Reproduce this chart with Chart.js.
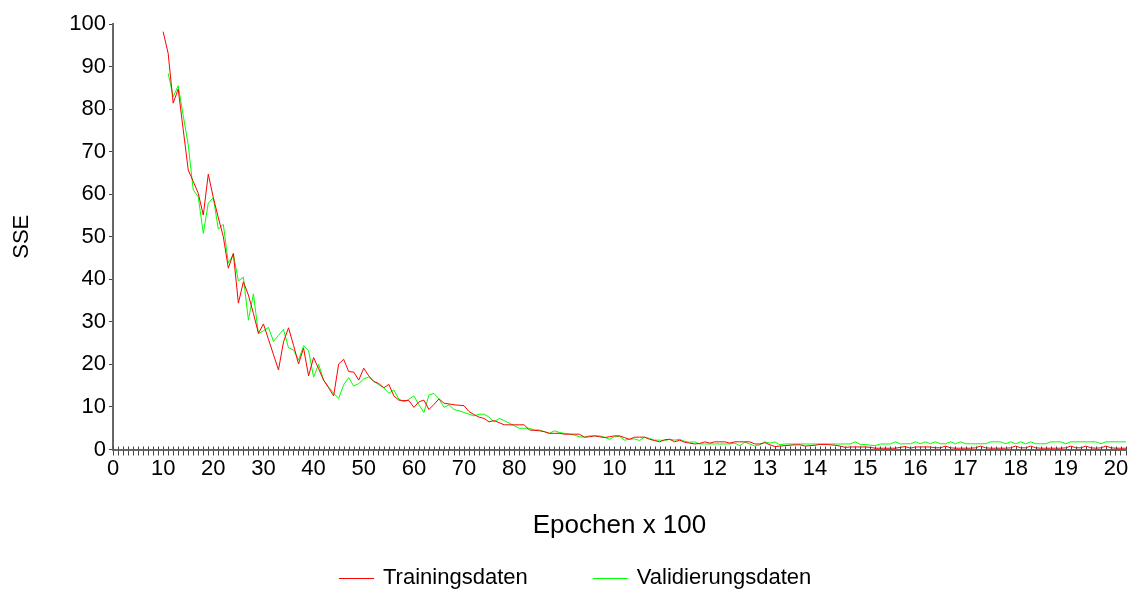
<!DOCTYPE html>
<html>
<head>
<meta charset="utf-8">
<script src="https://cdn.jsdelivr.net/npm/chart.js@4.4.0/dist/chart.umd.min.js"></script>
<style>
  html, body { margin: 0; padding: 0; background: #fff; }
</style>
</head>
<body>
<canvas id="sseChart" width="1147" height="596"></canvas>
<script>
// Epochen (x 10), eine Kategorie pro Messpunkt
const epochs = Array.from({ length: 203 }, (_, i) => i);
// Beschriftung jeder 10. Kategorie, so wie im Original (100..200 abgeschnitten)
const tickLabels = ['0', '10', '20', '30', '40', '50', '60', '70', '80', '90',
  '10', '11', '12', '13', '14', '15', '16', '17', '18', '19', '20'];

const trainStart = 10;
const trainingSSE = [
  98.2, 93.1, 81.4, 84.7, 75.2, 65.7, 63, 60.2, 55.1, 64.7,
  59.2, 54.5, 50, 42.6, 46.1, 34.4, 39.4, 36.3, 32, 27.3,
  29.5, 25.9, 22.3, 18.7, 25.3, 28.6, 24.5, 20.1, 23.8, 17.3,
  21.6, 19, 16.3, 14.5, 12.6, 20.1, 21.2, 18.3, 18.2, 16.3,
  19.1, 17.3, 16, 15.5, 14.5, 15.3, 12.6, 11.6, 11.5, 11.5,
  9.9, 11.2, 11.6, 9.4, 10.6, 11.9, 10.9, 10.7, 10.5, 10.4,
  10.3, 8.9, 8.2, 7.6, 7.3, 6.5, 6.8, 6.3, 5.8, 5.8,
  5.8, 5.8, 5.8, 4.6, 4.5, 4.4, 4.2, 3.8, 3.8, 3.8,
  3.6, 3.6, 3.6, 3.6, 2.9, 3.0, 3.2, 3.0, 2.8, 3.0,
  3.2, 3.2, 2.8, 2.4, 2.9, 2.9, 2.9, 2.4, 2.1, 1.8,
  2.3, 2.4, 1.8, 2.2, 1.7, 1.5, 1.3, 1.4, 1.8, 1.5,
  1.8, 1.8, 1.8, 1.5, 1.8, 1.8, 1.8, 1.8, 1.3, 1.3,
  1.6, 1.1, 0.7, 0.8, 0.9, 1.0, 1.1, 1.1, 0.8, 0.9,
  1.0, 1.2, 1.2, 1.1, 1.0, 0.8, 0.5, 0.6, 0.6, 0.6,
  0.6, 0.5, 0.3, 0.3, 0.3, 0.3, 0.3, 0.5, 0.7, 0.3,
  0.6, 0.6, 0.6, 0.6, 0.4, 0.4, 0.8, 0.4, 0.3, 0.3,
  0.3, 0.3, 0.4, 0.8, 0.4, 0.3, 0.3, 0.3, 0.3, 0.4,
  0.8, 0.4, 0.4, 0.8, 0.4, 0.3, 0.3, 0.3, 0.3, 0.3,
  0.4, 0.8, 0.4, 0.4, 0.8, 0.4, 0.3, 0.4, 0.8, 0.4,
  0.3, 0.3, 0.3
];

const validStart = 11;
const validationSSE = [
  88.4, 82.9, 85.5, 78.5, 71.6, 61, 59.4, 50.8, 57.9,
  59.2, 51.8, 52.9, 43.8, 45.9, 39.6, 40.5, 30.4, 36.6, 27.2,
  27.9, 28.7, 25.4, 26.8, 28.2, 23.9, 23.4, 21, 24.4, 23.2,
  17, 20, 16.3, 14.7, 13.2, 12, 15.2, 16.9, 14.9, 15.5,
  16.6, 17, 16, 15.2, 14.5, 13.2, 14, 11.8, 11.2, 11.8,
  12.6, 10.5, 8.7, 12.8, 13.2, 11.9, 9.9, 10.5, 9.4, 9.1,
  8.7, 8.3, 7.9, 8.3, 8.3, 7.6, 6.5, 7.3, 6.8, 6.2,
  5.6, 5, 5, 5, 4.6, 4.6, 4.2, 3.8, 4.4, 4,
  3.8, 3.6, 3.4, 3.0, 2.9, 3.2, 3.2, 3.2, 2.9, 2.4,
  3.0, 3.1, 2.2, 2.4, 2.5, 2.1, 2.9, 2.6, 2.2, 2.2,
  2.1, 2.4, 2.2, 2.4, 1.9, 1.7, 1.8, 1.3, 1.3, 1.3,
  1.3, 1.3, 1.3, 1.3, 1.5, 0.9, 1.7, 1.3, 0.8, 1.1,
  1.8, 1.5, 1.8, 1.1, 1.3, 1.3, 1.3, 1.3, 1.3, 1.3,
  1.3, 1.3, 1.3, 1.3, 1.3, 1.3, 1.3, 1.3, 1.8, 1.2,
  1.2, 1.0, 0.9, 1.3, 1.3, 1.3, 1.8, 1.3, 1.35, 1.35,
  1.8, 1.35, 1.8, 1.35, 1.8, 1.35, 1.35, 1.8, 1.35, 1.8,
  1.35, 1.35, 1.35, 1.35, 1.35, 1.8, 1.8, 1.8, 1.35, 1.8,
  1.35, 1.8, 1.35, 1.8, 1.35, 1.35, 1.35, 1.8, 1.8, 1.8,
  1.35, 1.8, 1.8, 1.8, 1.8, 1.8, 1.8, 1.35, 1.8, 1.8,
  1.8, 1.8, 1.8
];

const fontFamily = '"Liberation Sans", Arial, sans-serif';
Chart.defaults.font.family = fontFamily;
Chart.defaults.font.size = 22;
Chart.defaults.color = '#000';

function withOffset(values, start) {
  return Array(start).fill(null).concat(values);
}

// Achsenstriche gehen im Original etwas über die x-Achse hinaus
const crossTicks = {
  id: 'crossTicks',
  afterDraw(chart) {
    const s = chart.scales.x;
    const ctx = chart.ctx;
    ctx.save();
    ctx.strokeStyle = '#444';
    ctx.lineWidth = 1;
    ctx.beginPath();
    s.ticks.forEach((t, i) => {
      const px = Math.round(s.getPixelForTick(i)) + 0.5;
      ctx.moveTo(px, s.top - 3);
      ctx.lineTo(px, s.top);
    });
    ctx.stroke();
    ctx.restore();
  }
};

// Legende mit Linien statt Kästchen
const lineLegend = {
  id: 'lineLegend',
  afterDraw(chart) {
    const ctx = chart.ctx;
    ctx.save();
    ctx.font = '22px ' + fontFamily;
    ctx.textBaseline = 'middle';
    const y = 578, lineW = 35, gap = 9, itemGap = 65;
    const items = chart.data.datasets.map(d => ({
      label: d.label, color: d.borderColor, w: ctx.measureText(d.label).width
    }));
    let x = 339;
    items.forEach(it => {
      ctx.strokeStyle = it.color;
      ctx.lineWidth = 1;
      ctx.beginPath();
      ctx.moveTo(x, y + 0.5);
      ctx.lineTo(x + lineW, y + 0.5);
      ctx.stroke();
      ctx.fillStyle = '#000';
      ctx.fillText(it.label, x + lineW + gap, y);
      x += lineW + gap + it.w + itemGap;
    });
    ctx.restore();
  }
};

new Chart(document.getElementById('sseChart'), {
  type: 'line',
  data: {
    labels: epochs,
    datasets: [
      {
        label: 'Trainingsdaten',
        data: withOffset(trainingSSE, trainStart),
        borderColor: '#ff0000',
        borderWidth: 1,
        pointRadius: 0,
        tension: 0
      },
      {
        label: 'Validierungsdaten',
        data: withOffset(validationSSE, validStart),
        borderColor: '#00ff00',
        borderWidth: 1,
        pointRadius: 0,
        tension: 0
      }
    ]
  },
  options: {
    responsive: false,
    animation: false,
    layout: { padding: { left: 0, right: 21, top: 24, bottom: 0 } },
    plugins: {
      legend: { display: false },
      tooltip: { enabled: false }
    },
    scales: {
      x: {
        type: 'category',
        grid: { drawOnChartArea: false, tickLength: 6, color: '#444' },
        border: { color: '#666', width: 2 },
        ticks: {
          autoSkip: false,
          maxRotation: 0,
          padding: 0,
          callback: (v, i) => (i % 10 === 0 ? tickLabels[i / 10] : '')
        },
        title: { display: true, text: 'Epochen x 100', font: { size: 26 }, padding: { top: 0, bottom: 55 } },
        afterFit: s => { s.height = 146.5; }
      },
      y: {
        min: 0,
        max: 100,
        ticks: { stepSize: 10, padding: 3 },
        grid: { drawOnChartArea: false, tickLength: 4, color: '#444' },
        border: { color: '#666', width: 2 },
        title: { display: true, text: 'SSE', padding: { top: 9, bottom: 0 } },
        afterFit: s => { s.width = 113; }
      }
    }
  },
  plugins: [crossTicks, lineLegend]
});
</script>
</body>
</html>
